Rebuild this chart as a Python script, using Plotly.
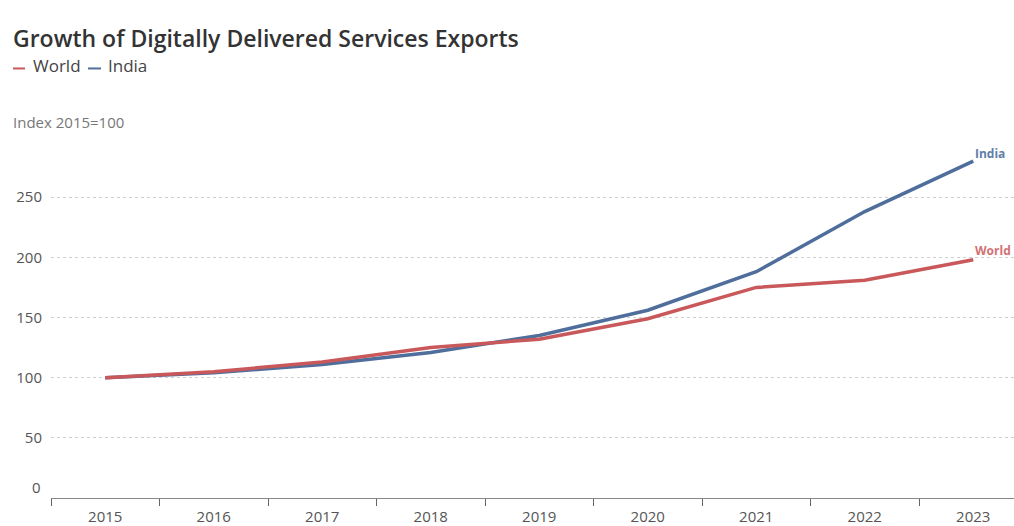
import plotly.graph_objects as go

# Index values (2015 = 100)
years = [2015, 2016, 2017, 2018, 2019, 2020, 2021, 2022, 2023]
world = [100, 105, 113, 125, 132, 149, 175, 181, 198]
india = [100, 104, 111, 121, 135, 156, 188, 238, 280]
y_ticks = [50, 100, 150, 200, 250]

WORLD_COLOR = "#c9585b"
INDIA_COLOR = "#4f6e9c"
FONT = "Open Sans"
LEFT, TOP, BOTTOM, W, H = 51, 143, 21, 1014, 526
PLOT_W = W - LEFT
PLOT_H = H - TOP - BOTTOM

fig = go.Figure()
fig.add_trace(go.Scatter(x=years, y=india, mode="lines", name="India",
                         line=dict(color=INDIA_COLOR, width=3.5)))
fig.add_trace(go.Scatter(x=years, y=world, mode="lines", name="World",
                         line=dict(color=WORLD_COLOR, width=3.5)))

# end-of-line labels
fig.add_annotation(x=years[-1], y=india[-1], text="<b>India</b>", showarrow=False,
                   xanchor="left", yanchor="bottom", xshift=0, yshift=-3,
                   font=dict(family=FONT, size=12, color="#5f7ea8"))
fig.add_annotation(x=years[-1], y=world[-1], text="<b>World</b>", showarrow=False,
                   xanchor="left", yanchor="bottom", xshift=0, yshift=-1,
                   font=dict(family=FONT, size=12, color="#d27173"))

# zero label sits just above the baseline
fig.add_annotation(xref="paper", x=0, y=0, text="0", showarrow=False,
                   xanchor="right", yanchor="middle", xshift=-8, yshift=11,
                   font=dict(family=FONT, size=15, color="#555"))


def header(text, px, yshift, size, color, weight=None):
    fig.add_annotation(xref="paper", yref="paper", x=0, y=1,
                       xshift=px - LEFT, yshift=yshift, text=text,
                       showarrow=False, xanchor="left", yanchor="middle",
                       font=dict(family=FONT, size=size, color=color,
                                 weight=weight))


def key_dash(px0, px1, py, color):
    fig.add_shape(type="line", xref="paper", yref="paper",
                  x0=(px0 - LEFT) / PLOT_W, x1=(px1 - LEFT) / PLOT_W,
                  y0=1 + (TOP - py) / PLOT_H, y1=1 + (TOP - py) / PLOT_H,
                  line=dict(color=color, width=2))


header("Growth of Digitally Delivered Services Exports", 11, 105, 23, "#333", 600)

# colour key row
key_dash(13, 25, 67, WORLD_COLOR)
header("World", 31, 78, 17, "#444")
key_dash(88, 101, 67, INDIA_COLOR)
header("India", 106, 78, 17, "#444")

header("Index 2015=100", 11, 21, 15, "#777")

fig.update_layout(
    width=W, height=H,
    margin=dict(l=LEFT, r=0, t=TOP, b=BOTTOM),
    paper_bgcolor="white", plot_bgcolor="white",
    showlegend=False,
    font=dict(family=FONT, size=15, color="#555"),
    xaxis=dict(
        range=[2014.5, 2014.5 + PLOT_W / 108.5],
        tickmode="array", tickvals=years, ticktext=[str(y) for y in years],
        ticks="", showgrid=False, zeroline=False,
        showline=True, linecolor="#888", linewidth=1,
        ticklabelstandoff=5,
        minor=dict(ticks="outside", tick0=2014.5, dtick=1, ticklen=7,
                   tickcolor="#666", tickwidth=1, showgrid=False),
        fixedrange=True,
    ),
    yaxis=dict(
        range=[0, 295],
        tickmode="array", tickvals=y_ticks,
        showgrid=True, gridcolor="#cfcfcf", griddash="dot", gridwidth=1,
        zeroline=False, showline=False, ticks="",
        ticklabelstandoff=8,
        fixedrange=True,
    ),
)

fig.write_html("out.html")
